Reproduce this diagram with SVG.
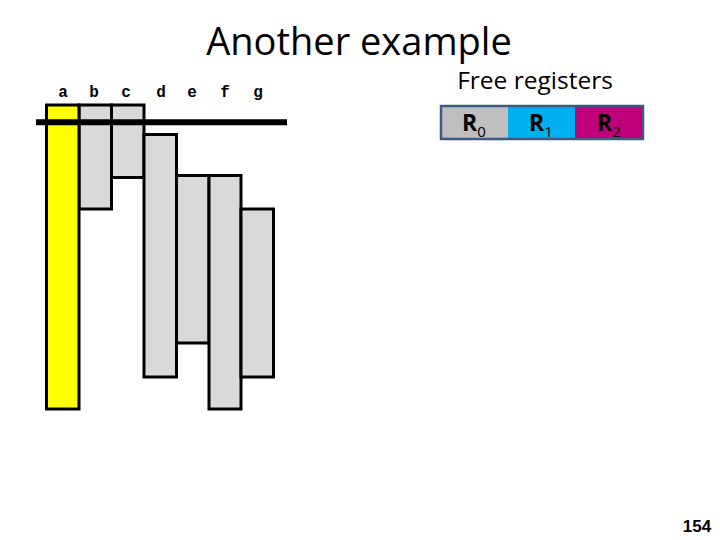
<svg xmlns="http://www.w3.org/2000/svg" width="720" height="540" viewBox="0 0 720 540">
<style>
.lbl{font-family:"Liberation Mono",monospace;font-weight:bold;font-size:16px;text-anchor:middle;fill:#000}
.bar{fill:#d9d9d9;stroke:#000;stroke-width:3}
.reg{font-family:"Open Sans","Liberation Sans",sans-serif;font-weight:bold;font-size:23px;fill:#000}
.sub{font-weight:normal;font-size:15px}
</style>
<rect width="720" height="540" fill="#fff"/>
<text x="359" y="55" font-family="Open Sans, Liberation Sans, sans-serif" font-size="38" text-anchor="middle" fill="#000">Another example</text>
<g id="labels">
<text class="lbl" x="63" y="97">a</text>
<text class="lbl" x="94" y="97">b</text>
<text class="lbl" x="126" y="97">c</text>
<text class="lbl" x="161" y="97">d</text>
<text class="lbl" x="192" y="97">e</text>
<text class="lbl" x="225" y="97">f</text>
<text class="lbl" x="258" y="97">g</text>
</g>
<g id="bar-b"><rect class="bar" x="79" y="105" width="32.5" height="104"/></g>
<g id="bar-c"><rect class="bar" x="111.5" y="105" width="32.5" height="72.5"/></g>
<g id="bar-d"><rect class="bar" x="144" y="134.5" width="32.5" height="242.5"/></g>
<g id="bar-e"><rect class="bar" x="176.5" y="175.5" width="32.5" height="167.5"/></g>
<g id="bar-f"><rect class="bar" x="209" y="175.5" width="32" height="233.5"/></g>
<g id="bar-g"><rect class="bar" x="241" y="209" width="32.5" height="168"/></g>
<g id="bar-a"><rect x="46.5" y="105" width="32.5" height="304" fill="#ffff00" stroke="#000" stroke-width="3"/></g>
<g id="line"><line x1="36" y1="122.3" x2="287" y2="122.3" stroke="#000" stroke-width="6"/></g>
<text x="535" y="89" font-family="Open Sans, Liberation Sans, sans-serif" font-size="24.5" text-anchor="middle" fill="#000">Free registers</text>
<g id="registers">
<rect x="441" y="106" width="67" height="33" fill="#bfbfbf"/>
<rect x="508" y="106" width="67" height="33" fill="#00b0f0"/>
<rect x="575" y="106" width="68" height="33" fill="#c0007a"/>
<rect x="441" y="106" width="202" height="33" fill="none" stroke="#3d5a80" stroke-width="2.5"/>
<text class="reg" x="462" y="131">R<tspan class="sub" dy="6">0</tspan></text>
<text class="reg" x="529" y="131">R<tspan class="sub" dy="6">1</tspan></text>
<text class="reg" x="597" y="131">R<tspan class="sub" dy="6">2</tspan></text>
</g>
<text x="697" y="532" font-family="Liberation Sans, sans-serif" font-weight="bold" font-size="17" text-anchor="middle" fill="#000">154</text>
</svg>
